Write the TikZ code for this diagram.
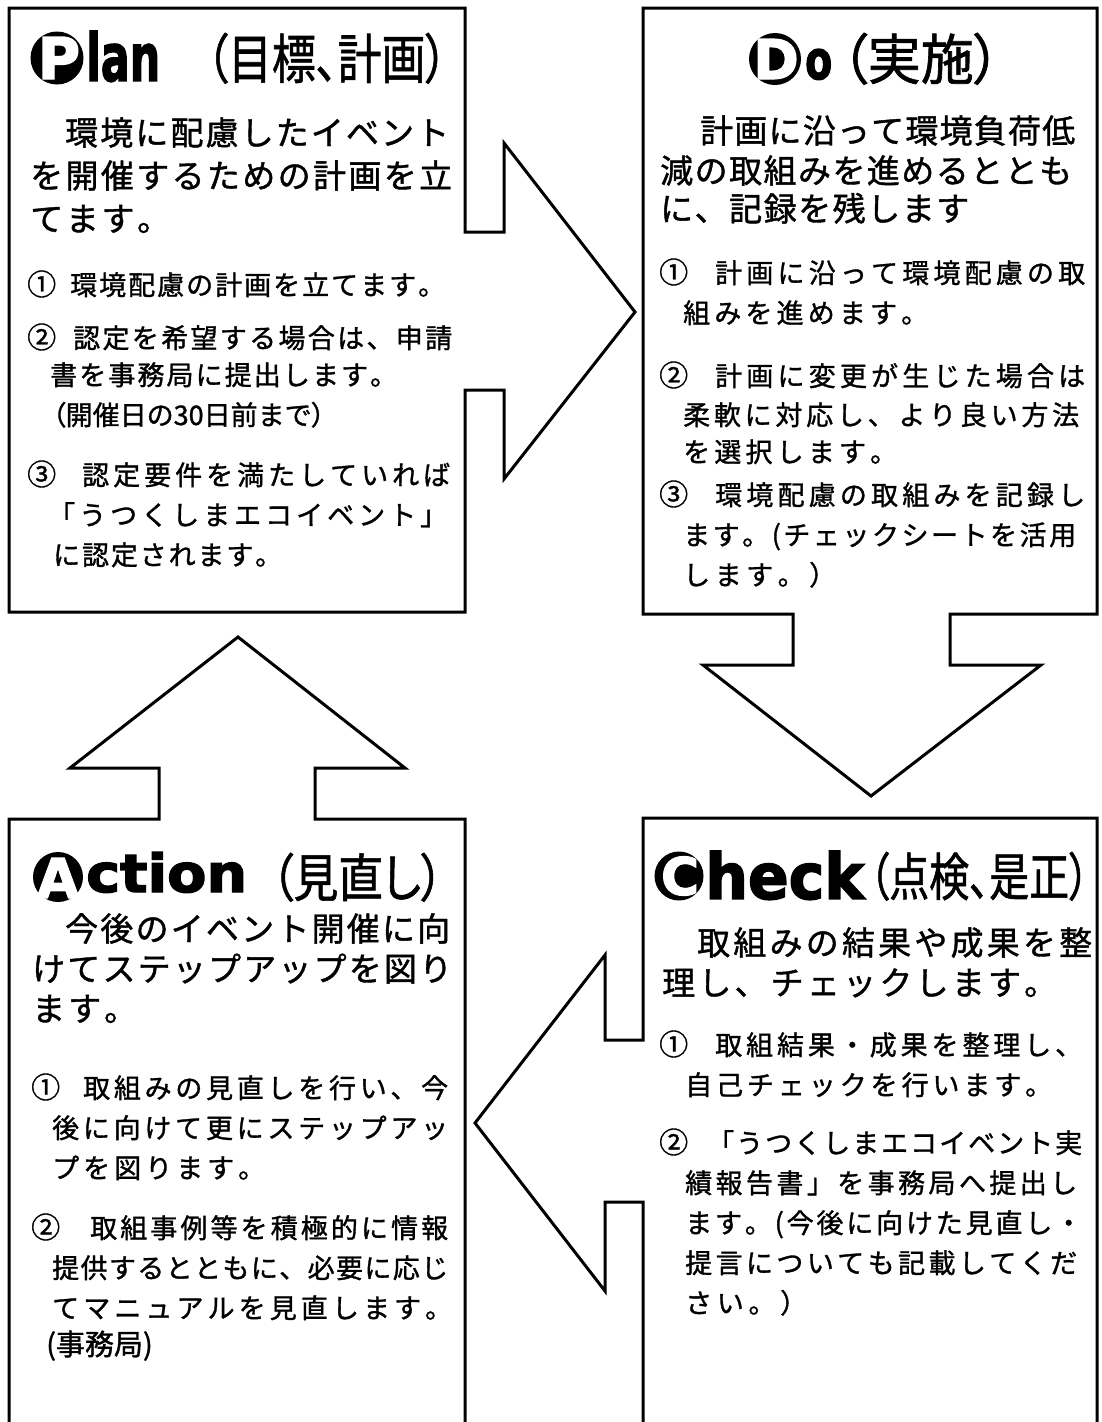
\documentclass[tikz,border=0pt]{standalone}
\usepackage{fontspec}
\usepackage{graphicx}
\newfontfamily\cjk{Noto Sans CJK JP}[FakeBold=1.2]
\newfontfamily\cjkp{Noto Sans CJK JP}[RawFeature=+palt, FakeBold=1.2]
\newfontfamily\heavy{DejaVu Sans}[FakeBold=2.5]
\makeatletter
\def\spc@#1{\ifx#1\relax\else#1\hfil\expandafter\spc@\fi}
\newcommand\ls[2]{\hbox to #1pt{\spc@#2\relax\unskip}}
\makeatother
\tikzset{
  outline/.style={draw=black, line width=3pt, line join=miter, fill=white},
  body/.style={anchor=base west, inner sep=0pt, font=\cjk\fontsize{33}{33}\selectfont},
  item/.style={anchor=base west, inner sep=0pt, font=\cjk\fontsize{27}{27}\selectfont},
  num/.style={anchor=base west, inner sep=0pt, font=\cjk\fontsize{29}{29}\selectfont},
  fitted/.style={anchor=south west, inner sep=0pt},
  badge/.style={fill=black},
  badgeletter/.style={text=white, inner sep=0pt, font=\heavy\bfseries},
}
\begin{document}
\begin{tikzpicture}[x=1pt,y=-1pt]
\clip (0,0) rectangle (1101,1422);
\fill[white] (0,0) rectangle (1101,1422);
% ---- outlines (boxes with block arrows)
\draw[outline] (9,8) -- (465,8) -- (465,232) -- (504,232) -- (504,143) -- (635,312) -- (504,479) -- (504,390) -- (465,390) -- (465,612) -- (9,612) -- cycle;
\draw[outline] (643,8) -- (1097,8) -- (1097,614) -- (950,614) -- (950,665) -- (1041,665) -- (871,796) -- (703,665) -- (793,665) -- (793,614) -- (643,614) -- cycle;
\draw[outline] (643,818) -- (1097,818) -- (1097,1440) -- (643,1440) -- (643,1202) -- (605,1202) -- (605,1291) -- (475,1123) -- (605,955) -- (605,1040) -- (643,1040) -- cycle;
\draw[outline] (9,819) -- (159,819) -- (159,768) -- (70,768) -- (238,637) -- (405,768) -- (315,768) -- (315,819) -- (465,819) -- (465,1440) -- (9,1440) -- cycle;

% ---- Plan
\fill[badge] (57,58) circle (26.5pt);
\node[badgeletter] (pP) at (59,58) {\resizebox*{!}{42pt}{P}};
\node[fitted] (pH1) at (86,82) {\resizebox{74pt}{50pt}{\heavy\bfseries lan}};
\node[fitted] (pH2) at (206,84) {\resizebox*{241pt}{51pt}{\cjkp （目標、計画）}};
\node[body] (pb1) at (65,145) {\ls{384}{環境に配慮したイベント}};
\node[body] (pb2) at (30,188) {\ls{422}{を開催するための計画を立}};
\node[body] (pb3) at (30,231) {\ls{140}{てます。}};
\node[num] (pn1) at (27,295) {①};
\node[item] (pi1) at (70,295) {\ls{375}{環境配慮の計画を立てます。}};
\node[num] (pn2) at (27,348) {②};
\node[item] (pi2) at (73,348) {\ls{379}{認定を希望する場合は、申請}};
\node[item] (pi3) at (50,385) {\ls{347}{書を事務局に提出します。}};
\node[item] (pi4) at (52,425) {{\cjkp （}開催日の30日前まで{\cjkp ）}};
\node[num] (pn3) at (27,485) {③};
\node[item] (pi5) at (82,485) {\ls{368}{認定要件を満たしていれば}};
\node[item] (pi6) at (48,525) {\ls{399}{「うつくしまエコイベント」}};
\node[item] (pi7) at (53,565) {\ls{229}{に認定されます。}};

% ---- Do
\fill[badge] (775,59) circle (26pt);
\node[badgeletter] (dD) at (776,59) {\resizebox*{!}{40pt}{D}};
\node[fitted] (dH1) at (805,80) {\resizebox{27pt}{30pt}{\heavy\bfseries o}};
\node[fitted] (dH2) at (841,85) {\resizebox*{159pt}{52pt}{\cjkp （実施）}};
\node[body] (db1) at (700,143) {\ls{375}{計画に沿って環境負荷低}};
\node[body] (db2) at (660,183) {\ls{412}{減の取組みを進めるととも}};
\node[body] (db3) at (660,221) {\ls{309}{に、記録を残します}};
\node[num] (dn1) at (659,283) {①};
\node[item] (di1) at (715,283) {\ls{370}{計画に沿って環境配慮の取}};
\node[item] (di2) at (683,323) {\ls{245}{組みを進めます。}};
\node[num] (dn2) at (659,386) {②};
\node[item] (di3) at (715,386) {\ls{370}{計画に変更が生じた場合は}};
\node[item] (di4) at (683,425) {\ls{396}{柔軟に対応し、より良い方法}};
\node[item] (di5) at (683,462) {\ls{214}{を選択します。}};
\node[num] (dn3) at (659,505) {③};
\node[item] (di6) at (715,505) {\ls{370}{環境配慮の取組みを記録し}};
\node[item] (di7) at (683,545) {\ls{393}{ます。(チェックシートを活用}};
\node[item] (di8) at (683,585) {\ls{153}{します。）}};

% ---- Check
\fill[badge] (679,876) circle (24.5pt);
\node[badgeletter] (cC) at (680,876) {\resizebox*{!}{39pt}{C}};
\node[fitted] (cH1) at (705,900) {\resizebox{159pt}{48pt}{\heavy\bfseries heck}};
\node[fitted] (cH2) at (869,901) {\resizebox*{220pt}{49pt}{\cjkp （点検、是正）}};
\node[body] (cb1) at (697,955) {\ls{395}{取組みの結果や成果を整}};
\node[body] (cb2) at (662,995) {\ls{395}{理し、チェックします。}};
\node[num] (cn1) at (659,1055) {①};
\node[item] (ci1) at (715,1055) {\ls{367}{取組結果・成果を整理し、}};
\node[item] (ci2) at (685,1095) {\ls{367}{自己チェックを行います。}};
\node[num] (cn2) at (659,1153) {②};
\node[item] (ci3) at (707,1153) {\ls{375}{「うつくしまエコイベント実}};
\node[item] (ci4) at (685,1193) {\ls{392}{績報告書」を事務局へ提出し}};
\node[item] (ci5) at (685,1233) {\ls{397}{ます。(今後に向けた見直し・}};
\node[item] (ci6) at (685,1273) {\ls{392}{提言についても記載してくだ}};
\node[item] (ci7) at (685,1313) {\ls{122}{さい。）}};

% ---- Action
\fill[badge] (58,877) circle (25pt);
\node[badgeletter] (aA) at (58,878) {\resizebox*{!}{40pt}{A}};
\node[fitted] (aH1) at (86,893) {\resizebox{161pt}{40pt}{\heavy\bfseries ction}};
\node[fitted] (aH2) at (271,902) {\resizebox*{172pt}{49pt}{\cjkp （見直し）}};
\node[body] (ab1) at (65,941) {\ls{385}{今後のイベント開催に向}};
\node[body] (ab2) at (32,981) {\ls{420}{けてステップアップを図り}};
\node[body] (ab3) at (32,1021) {\ls{105}{ます。}};
\node[num] (an1) at (31,1098) {①};
\node[item] (ai1) at (83,1098) {\ls{365}{取組みの見直しを行い、今}};
\node[item] (ai2) at (52,1138) {\ls{396}{後に向けて更にステップアッ}};
\node[item] (ai3) at (52,1178) {\ls{213}{プを図ります。}};
\node[num] (an2) at (31,1238) {②};
\node[item] (ai4) at (90,1238) {\ls{358}{取組事例等を積極的に情報}};
\node[item] (ai5) at (52,1278) {\ls{396}{提供するとともに、必要に応じ}};
\node[item] (ai6) at (52,1318) {\ls{400}{てマニュアルを見直します。}};
\node[item, font=\cjk\fontsize{29}{29}\selectfont] (ai7) at (46,1355) {(事務局)};
\end{tikzpicture}
\end{document}
